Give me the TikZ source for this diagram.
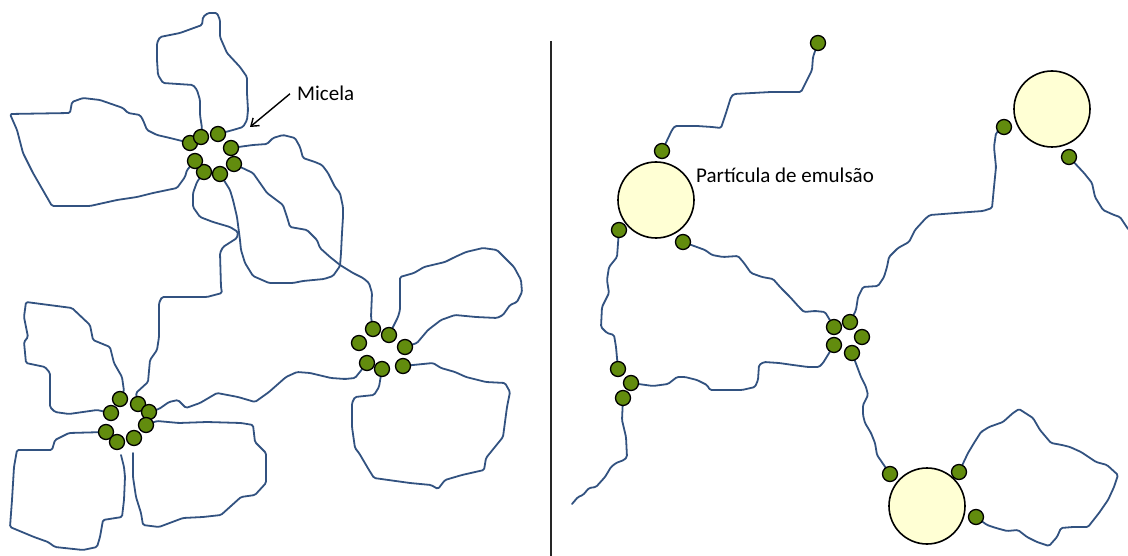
\documentclass[tikz,border=0pt]{standalone}
\usepackage{fontspec}
\setmainfont{Carlito}
\usetikzlibrary{arrows.meta}
\pgfdeclarelayer{background}
\pgfsetlayers{background,main}
\definecolor{chainblue}{RGB}{50,82,128}
\definecolor{beadgreen}{RGB}{98,140,14}
\definecolor{particlefill}{RGB}{255,255,212}
\tikzset{
  bead/.style={circle, draw=black, line width=1.3pt, fill=beadgreen, minimum size=15pt, inner sep=0pt},
  particle/.style={circle, draw=black, line width=1.6pt, fill=particlefill, minimum size=76pt, inner sep=0pt},
  chain/.style={draw=chainblue, line width=1.8pt, line join=round, line cap=round, rounded corners=1.5pt},
  label/.style={anchor=base west, inner sep=0pt, text=black},
  divider/.style={draw=black!85, line width=2.4pt},
  pointer/.style={draw=black, line width=1.4pt, -{Straight Barb[length=7pt,width=10pt]}}
}
\begin{document}
\begin{tikzpicture}[x=1pt,y=-1pt]
\useasboundingbox (0,0) rectangle (1128,556);

% ---------- left: micelles ----------
\foreach \n/\p in {a1/{(190,143)},a2/{(201,137)},a3/{(218,134)},a4/{(231,148)},
                   a5/{(234,164)},a6/{(220,174)},a7/{(204,172)},a8/{(195,161)},
                   b1/{(120,399)},b2/{(138,404)},b3/{(111,413)},b4/{(149,412)},
                   b5/{(146,425)},b6/{(106,432)},b7/{(117,442)},b8/{(134,438)},
                   c1/{(373,329)},c2/{(389,335)},c3/{(359,343)},c4/{(405,347)},
                   c5/{(367,363)},c6/{(382,369)},c7/{(403,366)}}
  \node[bead] (\n) at \p {};

\node[label, font=\fontsize{21}{24}\selectfont] (micela) at (297,101) {Micela};
\coordinate (micelatip) at (250,127);
\draw[pointer] ([xshift=-7pt]micela.west) -- (micelatip);

% ---------- right: emulsion particles ----------
\node[particle] (P1) at (656,200) {};
\node[particle] (P2) at (1052,109) {};
\node[particle] (P3) at (927,506) {};
\foreach \n/\p in {r0/{(818,43)},p1a/{(662,151)},p1b/{(619,230)},p1c/{(683,242)},
                   p2a/{(1004,127)},p2b/{(1069,157)},
                   p3a/{(890,474)},p3b/{(959,472)},p3c/{(976,517)},
                   d1/{(834,327)},d2/{(850,322)},d3/{(862,337)},d4/{(834,345)},d5/{(852,353)},
                   t1/{(618,369)},t2/{(631,383)},t3/{(623,398)}}
  \node[bead] (\n) at \p {};

\node[label, font=\fontsize{21}{24}\selectfont] (emul) at (696,183) {Partícula de emulsão};

\coordinate (divtop) at (551,41);
\coordinate (divbot) at (551,556);
\draw[divider] (divtop) -- (divbot);

\coordinate (endR3) at (572,504);
\coordinate (endR7) at (1128,229);
\coordinate (endH) at (121,455);
\coordinate (startI) at (133,453);

\begin{pgfonlayer}{background}
% micelle 1
\draw[chain] (a1) -- (170,138) -- (157,135) -- (147,130) -- (143,120) -- (140,115) -- (128,113)
  -- (123,108) -- (100,100) -- (83,98) -- (72,102) -- (70,113) -- (10,114) -- (17,130) -- (23,153)
  -- (33,173) -- (52,206) -- (90,206) -- (117,200) -- (137,197) -- (153,193) -- (177,188)
  -- (185,177) -- (187,170) -- (a8);
\draw[chain] (a2) -- (202,128) -- (200,115) -- (200,100) -- (197,90) -- (193,85) -- (163,83)
  -- (158,75) -- (157,60) -- (157,43) -- (160,37) -- (180,33) -- (202,25) -- (203,17) -- (208,13)
  -- (217,13) -- (220,20) -- (220,37) -- (227,53) -- (240,67) -- (247,77) -- (247,93) -- (248,110)
  -- (247,120) -- (243,127) -- (233,130) -- (a3);
\draw[chain] (a4) -- (253,145) -- (267,144) -- (273,138) -- (283,135) -- (295,138) -- (300,147)
  -- (303,158) -- (315,162) -- (322,165) -- (328,173) -- (335,187) -- (340,193) -- (343,207)
  -- (343,217) -- (342,233) -- (341,253) -- (340,266) -- (333,276) -- (324,279) -- (303,281)
  -- (293,283) -- (269,283) -- (253,276) -- (245,263) -- (241,250) -- (240,240) -- (237,217)
  -- (233,200) -- (230,190) -- (a6);
\draw[chain] (a5) -- (253,173) -- (260,183) -- (267,193) -- (283,205) -- (287,217) -- (290,227)
  -- (307,230) -- (317,240) -- (320,248) -- (330,257) -- (340,265) -- (353,273) -- (363,278)
  -- (369,283) -- (372,293) -- (371,317) -- (c1);
\draw[chain] (a7) -- (197,182) -- (193,193) -- (193,207) -- (200,217) -- (213,222) -- (230,227)
  -- (238,232) -- (237,238) -- (223,247) -- (220,253) -- (221,287) -- (222,293) -- (207,297)
  -- (162,297) -- (159,303) -- (159,337) -- (157,350) -- (150,360) -- (148,382) -- (136,393) -- (b2);
% micelle 2
\draw[chain] (b1) -- (124,391) -- (122,377) -- (114,363) -- (110,347) -- (93,340) -- (90,325)
  -- (72,308) -- (26,302) -- (24,317) -- (28,337) -- (24,342) -- (26,363) -- (45,367) -- (50,373)
  -- (50,407) -- (55,412) -- (69,414) -- (83,412) -- (97,410) -- (b3);
\draw[chain] (b6) -- (69,433) -- (55,440) -- (52,450) -- (17,450) -- (14,467) -- (12,500)
  -- (10,527) -- (34,537) -- (48,542) -- (55,547) -- (83,550) -- (97,547) -- (100,537) -- (103,520)
  -- (122,517) -- (124,500) -- (125,477) -- (124,467) -- (endH);
\draw[chain] (startI) -- (133,477) -- (136,497) -- (141,513) -- (143,525) -- (159,527) -- (183,518)
  -- (203,517) -- (221,515) -- (241,497) -- (255,495) -- (266,483) -- (266,453) -- (255,442)
  -- (253,425) -- (241,423) -- (207,422) -- (179,423) -- (157,421) -- (b5);
\draw[chain] (b4) -- (159,409) -- (169,402) -- (178,400) -- (186,408) -- (200,403) -- (217,393)
  -- (238,397) -- (255,402) -- (269,392) -- (286,377) -- (297,372) -- (310,373) -- (331,378)
  -- (345,379) -- (355,378) -- (c5);
% micelle 3
\draw[chain] (c2) -- (398,317) -- (400,310) -- (400,277) -- (414,273) -- (424,267) -- (445,262)
  -- (455,257) -- (466,252) -- (483,248) -- (497,250) -- (514,267) -- (521,280) -- (522,292)
  -- (517,302) -- (510,305) -- (503,315) -- (497,318) -- (476,317) -- (455,315) -- (441,320)
  -- (428,330) -- (417,343) -- (c4);
\draw[chain] (c7) -- (433,363) -- (441,368) -- (455,372) -- (466,377) -- (486,382) -- (505,383)
  -- (510,392) -- (507,407) -- (503,437) -- (486,458) -- (484,470) -- (462,475) -- (445,480)
  -- (438,489) -- (431,485) -- (410,483) -- (374,478) -- (369,470) -- (359,453) -- (355,448)
  -- (352,427) -- (352,403) -- (355,397) -- (374,395) -- (379,387) -- (c6);

% right panel chains
\draw[chain] (r0) -- (813,57) -- (812,70) -- (808,78) -- (801,92) -- (771,92) -- (734,94)
  -- (731,97) -- (726,113) -- (721,128) -- (712,127) -- (697,126) -- (675,126) -- (672,130) -- (p1a);
\draw[chain] (p1b) -- (617,257) -- (609,267) -- (607,280) -- (609,293) -- (602,307) -- (601,327)
  -- (607,333) -- (614,335) -- (616,347) -- (t1);
\draw[chain] (t3) -- (622,420) -- (626,437) -- (627,457) -- (624,460) -- (616,463) -- (611,467)
  -- (605,477) -- (596,487) -- (589,488) -- (583,495) -- (578,497) -- (endR3);
\draw[chain] (t2) -- (653,386) -- (668,384) -- (677,377) -- (685,377) -- (697,380) -- (707,385)
  -- (710,390) -- (742,390) -- (755,387) -- (758,380) -- (759,365) -- (764,362) -- (779,363)
  -- (793,365) -- (808,367) -- (819,367) -- (823,363) -- (d4);
\draw[chain] (p1c) -- (705,250) -- (712,255) -- (723,257) -- (738,256) -- (744,263) -- (751,273)
  -- (762,277) -- (773,279) -- (781,288) -- (790,297) -- (799,307) -- (804,312) -- (815,311)
  -- (825,312) -- (d1);
\draw[chain] (d2) -- (856,310) -- (858,297) -- (863,287) -- (878,286) -- (884,277) -- (887,267)
  -- (889,257) -- (898,248) -- (909,242) -- (915,230) -- (926,218) -- (930,215) -- (956,213)
  -- (983,211) -- (992,208) -- (994,187) -- (996,167) -- (994,147) -- (996,133) -- (p2a);
\draw[chain] (p2b) -- (1084,173) -- (1092,183) -- (1095,197) -- (1103,210) -- (1114,215)
  -- (1120,217) -- (endR7);
\draw[chain] (d5) -- (861,377) -- (866,387) -- (868,395) -- (863,405) -- (863,415) -- (865,423)
  -- (871,433) -- (875,443) -- (877,455) -- (p3a);
\draw[chain] (p3b) -- (968,453) -- (974,443) -- (981,432) -- (989,427) -- (1003,422) -- (1013,413)
  -- (1019,409) -- (1033,418) -- (1040,430) -- (1051,443) -- (1062,445) -- (1070,447) -- (1081,452)
  -- (1096,462) -- (1107,465) -- (1118,475) -- (1114,487) -- (1108,500) -- (1099,513) -- (1088,527)
  -- (1073,527) -- (1061,528) -- (1057,537) -- (1049,546) -- (1037,542) -- (1027,537) -- (1018,530)
  -- (1007,531) -- (996,528) -- (987,525) -- (p3c);
\end{pgfonlayer}
\end{tikzpicture}
\end{document}
